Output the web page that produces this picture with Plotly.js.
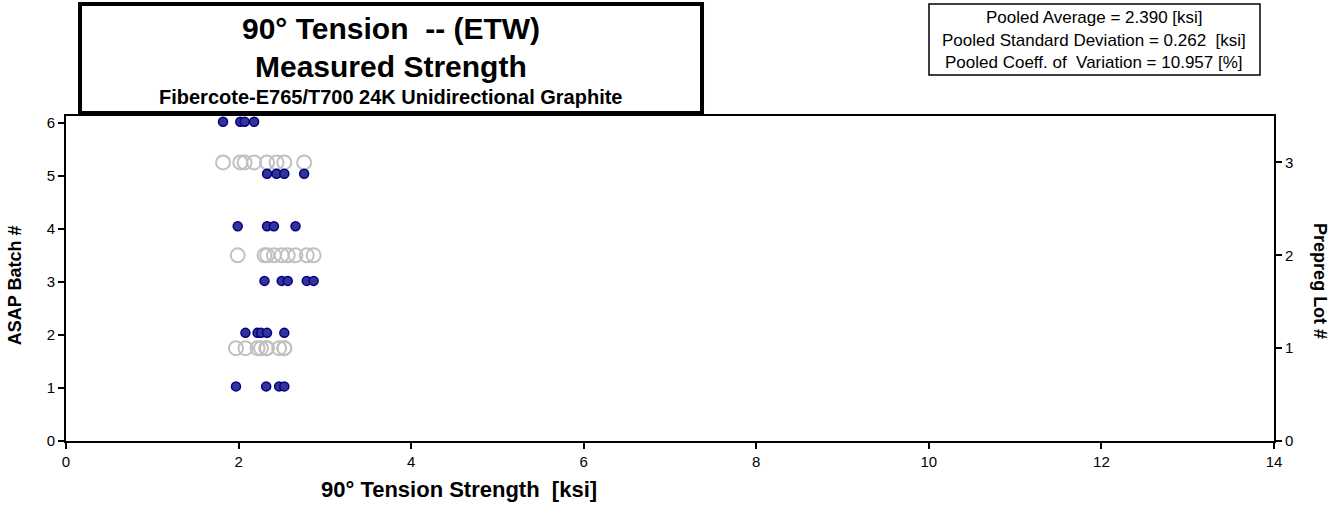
<!DOCTYPE html>
<html>
<head>
<meta charset="utf-8">
<script src="https://cdn.plot.ly/plotly-3.0.1.min.js"></script>
<style>html,body{margin:0;padding:0;background:#fff;}#chart{width:1336px;height:507px;}</style>
</head>
<body>
<div id="chart"></div>
<script>
// Measured strength values [ksi] per ASAP batch
const batch1 = [1.97, 2.32, 2.47, 2.53];
const batch2 = [2.08, 2.22, 2.26, 2.33, 2.53];
const batch3 = [2.30, 2.50, 2.57, 2.79, 2.87];
const batch4 = [1.99, 2.33, 2.41, 2.66];
const batch5 = [2.33, 2.44, 2.53, 2.76];
const batch6 = [1.82, 2.02, 2.07, 2.18];
// plotted vertical position of each batch row
const batchY = [1.03, 2.04, 3.02, 4.05, 5.04, 6.02];
// prepreg lots (union of two batches each)
const lot1 = batch1.concat(batch2);
const lot2 = batch3.concat(batch4);
const lot3 = batch5.concat(batch6);
const lotY = [1, 2, 3];
const xTicks = [0, 2, 4, 6, 8, 10, 12, 14];
const batchTicks = [0, 1, 2, 3, 4, 5, 6];
const lotTicks = [0, 1, 2, 3];

const titleLines = ["90° Tension  -- (ETW)", "Measured Strength", "Fibercote-E765/T700 24K Unidirectional Graphite"];
const statLines = ["Pooled Average = 2.390 [ksi]", "Pooled Standard Deviation = 0.262  [ksi]", "Pooled Coeff. of  Variation = 10.957 [%]"];

const batches = [batch1, batch2, batch3, batch4, batch5, batch6];
const lots = [lot1, lot2, lot3];

let bx = [], by = [];
batches.forEach((b, i) => { b.forEach(v => { bx.push(v); by.push(batchY[i]); }); });
let lx = [], ly = [];
lots.forEach((l, i) => { l.forEach(v => { lx.push(v); ly.push(lotY[i]); }); });

const FONT = 'Arial, "Liberation Sans", sans-serif';

const traces = [
  { x: lx, y: ly, xaxis: 'x', yaxis: 'y', mode: 'markers', type: 'scatter',
    marker: { symbol: 'circle-open', size: 14, color: '#C0C0C0', line: { width: 2, color: '#C0C0C0' } },
    hoverinfo: 'x+y', showlegend: false },
  { x: bx, y: by, xaxis: 'x', yaxis: 'y2', mode: 'markers', type: 'scatter',
    marker: { symbol: 'circle', size: 9, color: '#333399', line: { width: 1.5, color: '#000080' } },
    hoverinfo: 'x+y', showlegend: false }
];

const axBase = {
  showgrid: false, zeroline: false, showline: true, linecolor: '#000', linewidth: 2,
  ticks: 'outside', ticklen: 6, tickwidth: 2, tickcolor: '#000',
  tickfont: { family: FONT, size: 15, color: '#000' }
};
const innerTicks = { showgrid: false, zeroline: false, showline: false, ticks: 'inside', ticklen: 5,
  tickwidth: 2, tickcolor: '#000', showticklabels: false };

const layout = {
  width: 1336, height: 507,
  margin: { l: 66, r: 62, t: 116, b: 66 },
  paper_bgcolor: '#fff', plot_bgcolor: '#fff',
  showlegend: false,
  xaxis: Object.assign({}, axBase, { range: [0, 14], tickvals: xTicks, mirror: true, anchor: 'y' }),
  yaxis: Object.assign({}, axBase, { range: [0, 3.5], tickvals: lotTicks, side: 'right', anchor: 'x' }),
  yaxis2: Object.assign({}, axBase, { range: [0, 6.13], tickvals: batchTicks, side: 'left', overlaying: 'y', anchor: 'x' }),
  xaxis3: Object.assign({}, innerTicks, { range: [0, 14], tickvals: xTicks, overlaying: 'x', anchor: 'y' }),
  yaxis3: Object.assign({}, innerTicks, { range: [0, 3.5], tickvals: lotTicks, overlaying: 'y', side: 'right', anchor: 'x' }),
  yaxis4: Object.assign({}, innerTicks, { range: [0, 6.13], tickvals: batchTicks, overlaying: 'y', side: 'left', anchor: 'x' }),
  shapes: [
    { type: 'rect', xref: 'paper', yref: 'paper', x0: 0.0116, x1: 0.5265, y0: 1.0092, y1: 1.3446,
      line: { color: '#000', width: 4 }, fillcolor: 'rgba(0,0,0,0)' },
    { type: 'rect', xref: 'paper', yref: 'paper', x0: 0.7144, x1: 0.9884, y0: 1.1262, y1: 1.3446,
      line: { color: '#000', width: 1.5 }, fillcolor: 'rgba(0,0,0,0)' }
  ],
  annotations: [
    { text: '<b>' + titleLines[0] + '</b>', xref: 'paper', yref: 'paper', x: 0.269, y: 1.2677, showarrow: false,
      xanchor: 'center', yanchor: 'middle', font: { family: FONT, size: 30, color: '#000' } },
    { text: '<b>' + titleLines[1] + '</b>', xref: 'paper', yref: 'paper', x: 0.269, y: 1.1538, showarrow: false,
      xanchor: 'center', yanchor: 'middle', font: { family: FONT, size: 30, color: '#000' } },
    { text: '<b>' + titleLines[2] + '</b>', xref: 'paper', yref: 'paper', x: 0.269, y: 1.0585, showarrow: false,
      xanchor: 'center', yanchor: 'middle', font: { family: FONT, size: 20, color: '#000' } },
    { text: statLines[0], xref: 'paper', yref: 'paper', x: 0.8514, y: 1.3046, showarrow: false,
      xanchor: 'center', yanchor: 'middle', font: { family: FONT, size: 17, color: '#000' } },
    { text: statLines[1], xref: 'paper', yref: 'paper', x: 0.8514, y: 1.2308, showarrow: false,
      xanchor: 'center', yanchor: 'middle', font: { family: FONT, size: 17, color: '#000' } },
    { text: statLines[2], xref: 'paper', yref: 'paper', x: 0.8514, y: 1.1631, showarrow: false,
      xanchor: 'center', yanchor: 'middle', font: { family: FONT, size: 17, color: '#000' } },
    { text: '<b>90° Tension Strength  [ksi]</b>', xref: 'paper', yref: 'paper', x: 0.3253, y: -0.1477, showarrow: false,
      xanchor: 'center', yanchor: 'middle', font: { family: FONT, size: 22, color: '#000' } },
    { text: '<b>ASAP Batch #</b>', xref: 'paper', yref: 'paper', x: -0.042, y: 0.48, showarrow: false, textangle: -90,
      xanchor: 'center', yanchor: 'middle', font: { family: FONT, size: 18, color: '#000' } },
    { text: '<b>Prepreg Lot #</b>', xref: 'paper', yref: 'paper', x: 1.038, y: 0.4923, showarrow: false, textangle: 90,
      xanchor: 'center', yanchor: 'middle', font: { family: FONT, size: 18, color: '#000' } }
  ]
};

Plotly.newPlot('chart', traces, layout, { displayModeBar: false, staticPlot: true });
</script>
</body>
</html>
